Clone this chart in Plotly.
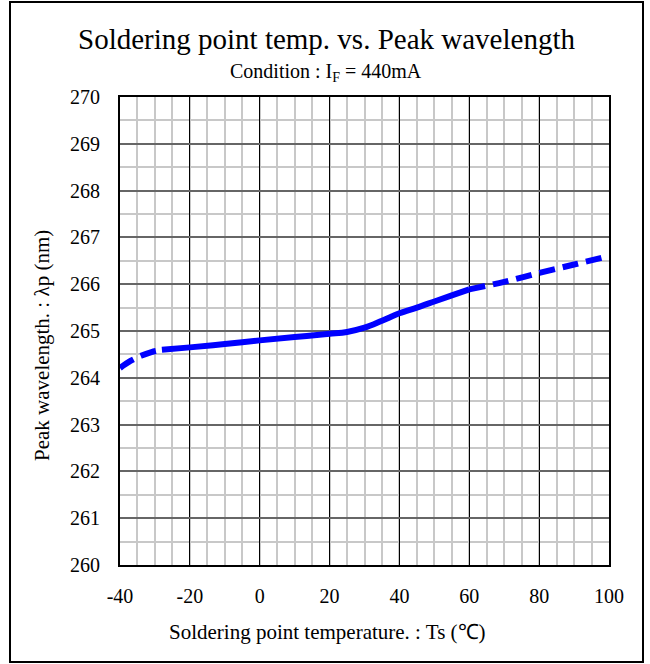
import plotly.graph_objects as go

# Data
temp_low = [-40, -37, -34, -31, -28]
wl_low = [264.21, 264.36, 264.47, 264.55, 264.6]

temp_mid = [-28, -20, -10, 0, 10, 20, 25, 30, 35, 40, 45, 50, 55, 60]
wl_mid = [264.6, 264.65, 264.72, 264.8, 264.87, 264.94, 264.98, 265.07, 265.22, 265.38, 265.5, 265.63, 265.76, 265.89]

temp_high = [60, 70, 80, 90, 100]
wl_high = [265.89, 266.05, 266.24, 266.42, 266.6]

x_ticks = [-40, -20, 0, 20, 40, 60, 80, 100]
x_labels = ["-40", "-20", "0", "20", "40", "60", "80", "100"]
y_ticks = [260, 261, 262, 263, 264, 265, 266, 267, 268, 269, 270]

BLUE = "#0000ff"
FONT = "Liberation Serif"

# plot area in pixels (for placing paper-referenced texts)
L, R, T, B = 120, 609, 97, 565
PW, PH = R - L, B - T


def px(x):
    return (x - L) / PW


def py(y):
    return (B - y) / PH


fig = go.Figure()
fig.add_trace(go.Scatter(x=temp_low, y=wl_low, mode="lines",
                         line=dict(color=BLUE, width=6, dash="16px,8px", shape="spline"),
                         showlegend=False))
fig.add_trace(go.Scatter(x=temp_mid, y=wl_mid, mode="lines",
                         line=dict(color=BLUE, width=6, shape="spline"),
                         showlegend=False))
fig.add_trace(go.Scatter(x=temp_high, y=wl_high, mode="lines",
                         line=dict(color=BLUE, width=6, dash="16px,8px", shape="spline"),
                         showlegend=False))

fig.update_layout(
    width=650, height=664,
    margin=dict(l=L, r=650 - R, t=T, b=664 - B),
    paper_bgcolor="white", plot_bgcolor="white",
    font=dict(family=FONT, color="black", size=20),
    xaxis=dict(range=[-40, 100], tickvals=x_ticks, ticktext=x_labels, ticks="", ticklen=0,
               automargin=False, ticklabelstandoff=12,
               showgrid=True, gridcolor="#000000", gridwidth=1.2,
               minor=dict(dtick=5, tick0=0, showgrid=True, gridcolor="#c8c8c8", gridwidth=1.5),
               showline=True, linecolor="black", linewidth=2, mirror=True,
               zeroline=False, tickfont=dict(family=FONT, size=20, color="black")),
    yaxis=dict(range=[260, 270], tickvals=y_ticks, ticks="", ticklen=0,
               automargin=False, ticklabelstandoff=14,
               showgrid=True, gridcolor="#666666", gridwidth=2,
               minor=dict(dtick=0.5, tick0=260, showgrid=True, gridcolor="#c8c8c8", gridwidth=1.5),
               showline=True, linecolor="black", linewidth=2, mirror=True,
               zeroline=False, tickfont=dict(family=FONT, size=20, color="black")),
    shapes=[dict(type="rect", xref="paper", yref="paper",
                 x0=px(10), x1=px(643), y0=py(662), y1=py(2),
                 line=dict(color="black", width=2), layer="above")],
    annotations=[
        dict(text="Soldering point temp. vs. Peak wavelength", xref="paper", yref="paper",
             x=px(326), y=py(39), xanchor="center", yanchor="middle",
             showarrow=False, font=dict(family=FONT, size=29)),
        dict(text="Condition : I<sub>F</sub> = 440mA", xref="paper", yref="paper",
             x=px(326), y=py(73), xanchor="center", yanchor="middle",
             showarrow=False, font=dict(family=FONT, size=20)),
        dict(text="Soldering point temperature. : Ts (℃)", xref="paper", yref="paper",
             x=px(327), y=py(632), xanchor="center", yanchor="middle",
             showarrow=False, font=dict(family=FONT, size=21)),
        dict(text="Peak wavelength. : λp (nm)", xref="paper", yref="paper",
             x=px(42), y=py(346), xanchor="center", yanchor="middle", textangle=-90,
             showarrow=False, font=dict(family=FONT, size=21)),
    ],
)

fig.write_html("out.html", config={"displayModeBar": False},
               post_script="document.body.style.margin='0px';")
